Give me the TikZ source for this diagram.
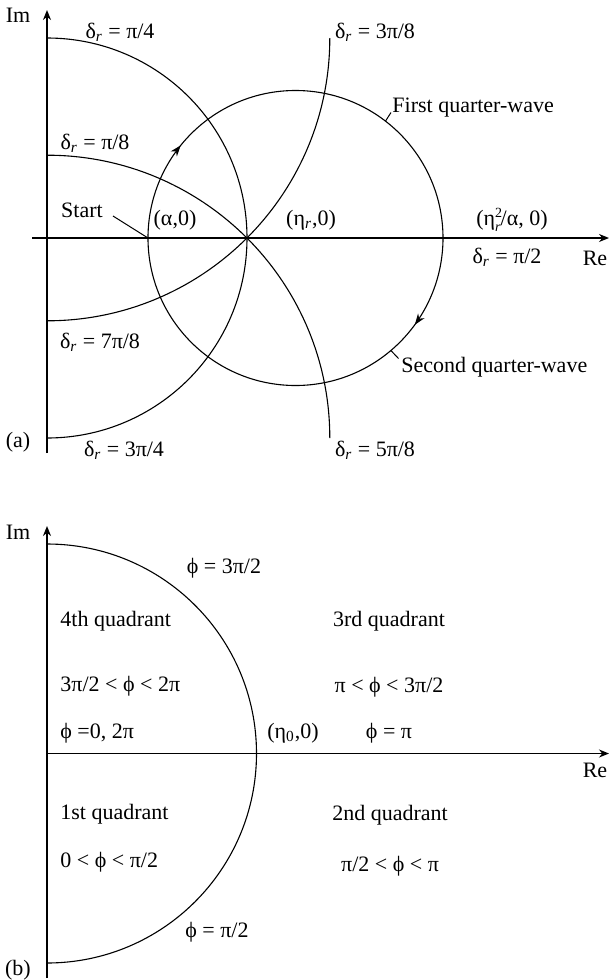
\documentclass[tikz,border=0pt]{standalone}
\usepackage{fontspec}
\setmainfont{Liberation Serif}
\usetikzlibrary{arrows.meta,decorations.markings,calc}
\newcommand{\dr}{δ\textsubscript{\itshape r}}
\newcommand{\etarsq}{η\rlap{\raisebox{0.8ex}{\scriptsize 2}}\raisebox{-0.6ex}{\scriptsize\itshape r}}
\newcommand{\ph}{ϕ}
\begin{document}
\begin{tikzpicture}[x=0.5pt,y=0.5pt,
  lbl/.style={inner sep=0pt, font=\fontsize{11}{13}\selectfont},
  lblw/.style={lbl, anchor=west},
  axisim/.style={line width=0.9pt,-{Stealth[length=5pt,width=4pt]}},
  axisre/.style={line width=0.6pt,-{Stealth[length=5pt,width=4pt]}},
  curve/.style={line width=0.55pt},
  lead/.style={line width=0.5pt},
  flow/.style={curve, postaction={decorate}, decoration={markings,
     mark=at position 0.108 with {\arrow{Stealth[length=5.5pt,width=4pt]}},
     mark=at position 0.600 with {\arrow{Stealth[length=5.5pt,width=4pt]}}}}]
\useasboundingbox (0,-980) rectangle (610,0);

% ---------------- panel (a) ----------------
\coordinate (O) at (47,-238);
\coordinate (imAlo) at (47,-453);
\coordinate (imAhi) at (47,-10);
\coordinate (reAlo) at (32,-238);
\coordinate (reAhi) at (609,-238);
\coordinate (E) at (247,-238);
\coordinate (A) at (148,-238);
\coordinate (C) at (295.5,-238);

\draw[axisim] (imAlo) -- (imAhi);
\draw[axisre] (reAlo) -- (reAhi);

% delta = pi/4 and 3pi/4 (circle about origin through eta_r)
\draw[curve] (47,-38) arc[start angle=90,end angle=-90,radius=200];
% delta = 7pi/8 and 3pi/8
\draw[curve] (47,-320.8) arc[start angle=-90,end angle=0,radius=282.8];
% delta = pi/8 and 5pi/8
\draw[curve] (47,-155.2) arc[start angle=90,end angle=0,radius=282.8];
% quarter-wave circle
\draw[flow] (A) arc[start angle=180,end angle=-180,radius=147.5];

% leaders
\node[lbl] (start) at (82,-210) {Start};
\coordinate (startlead) at (113,-216);
\draw[lead] (startlead) -- (A);

\coordinate (fqwc) at (385.5,-121.1);
\coordinate (fqwt) at (391,-112.5);
\draw[lead] (fqwc) -- (fqwt);
\node[lblw] (fqw) at (392,-108) {First quarter-wave};

\coordinate (sqwc) at (390.9,-350.5);
\coordinate (sqwt) at (398.5,-358.5);
\draw[lead] (sqwc) -- (sqwt);
\node[lblw] (sqw) at (401,-367) {Second quarter-wave};

% labels
\node[lbl] (imA) at (18,-15) {Im};
\node[lbl] (d1) at (120,-32) {\dr{} = π/4};
\node[lbl] (d2) at (95,-143) {\dr{} = π/8};
\node[lbl] (alpha) at (175,-220) {(α,0)};
\node[lbl] (etar) at (311,-220) {(η\textsubscript{\itshape r},0)};
\node[lbl] (d3) at (375,-32) {\dr{} = 3π/8};
\node[lbl] (etasq) at (512,-220) {(\etarsq/α, 0)};
\node[lbl] (d4) at (507,-257) {\dr{} = π/2};
\node[lbl] (reA) at (595,-258) {Re};
\node[lbl] (d7) at (100,-342) {\dr{} = 7π/8};
\node[lbl] (d6) at (124,-450) {\dr{} = 3π/4};
\node[lbl] (d5) at (375,-450) {\dr{} = 5π/8};
\node[lbl] (pa) at (18,-442) {(a)};

% ---------------- panel (b) ----------------
\coordinate (O2) at (47,-753.5);
\coordinate (imBlo) at (47,-978);
\coordinate (imBhi) at (47,-526);
\coordinate (reBhi) at (609,-753.5);
\draw[axisim] (imBlo) -- (imBhi);
\draw[axisre] (O2) -- (reBhi);
\draw[curve] (47,-544) arc[start angle=90,end angle=-90,radius=209.5];

\node[lbl] (imB) at (18,-532) {Im};
\node[lbl] (p32) at (224,-568) {\ph{} = 3π/2};
\node[lblw] (q4) at (60,-621) {4th quadrant};
\node[lblw] (r4) at (60,-686) {3π/2 < \ph{} < 2π};
\node[lblw] (p0) at (60,-733) {\ph{} =0, 2π};
\node[lbl] (eta0) at (293,-733) {(η\textsubscript{0},0)};
\node[lbl] (q3) at (389,-621) {3rd quadrant};
\node[lbl] (r3) at (389,-687) {π < \ph{} < 3π/2};
\node[lbl] (ppi) at (389,-733) {\ph{} = π};
\node[lbl] (reB) at (595,-770) {Re};
\node[lblw] (q1) at (60,-814) {1st quadrant};
\node[lbl] (q2) at (390,-815) {2nd quadrant};
\node[lblw] (r1) at (60,-862) {0 < \ph{} < π/2};
\node[lbl] (r2) at (390,-866) {π/2 < \ph{} < π};
\node[lbl] (p12) at (217,-932) {\ph{} = π/2};
\node[lbl] (pb) at (18,-970) {(b)};
\end{tikzpicture}
\end{document}
